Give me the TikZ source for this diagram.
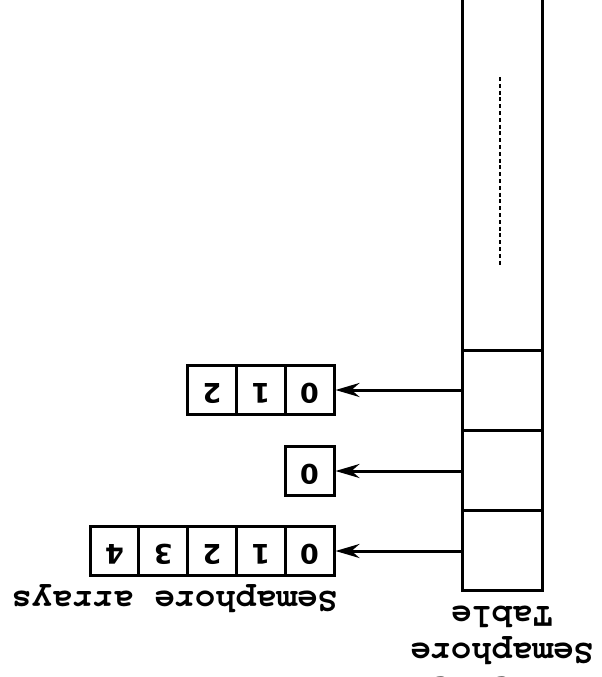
\documentclass[tikz,border=0pt]{standalone}
\usepackage{fontspec}
\newfontfamily\labelfont{texgyrecursor}[Extension=.otf,UprightFont=*-regular,BoldFont=*-bold]
\newfontfamily\digitfont{DejaVu Sans}
\usetikzlibrary{arrows.meta}
\begin{document}
\begin{tikzpicture}[x=1pt,y=-1pt,
  tcell/.style={draw,line width=3pt,minimum width=80pt,minimum height=80pt,inner sep=0pt},
  acell/.style={draw,line width=3pt,minimum width=48.8pt,minimum height=49pt,inner sep=0pt,
    text height=19.7pt,text depth=7pt,
    rotate=180,font=\digitfont\bfseries\fontsize{27}{30}\selectfont},
  lbl/.style={rotate=180,inner sep=0pt,font=\labelfont\bfseries\fontsize{34}{37}\selectfont},
  ptr/.style={line width=3pt,-{Stealth[length=24pt,width=14pt,inset=8pt]}}]
\useasboundingbox (0,0) rectangle (602,677);

% semaphore table: open-ended upper part and three entries
\node[tcell,minimum height=380pt] (ctop) at (502,160) {};
\node[tcell] (c1) at (502,390) {};
\node[tcell] (c2) at (502,470) {};
\node[tcell] (c3) at (502,550) {};
\draw[line width=2.2pt,dash pattern=on 4pt off 2.8pt] (500,77) -- (500,265);

% semaphore arrays
\node[acell] (a0) at (309.6,390) {0};
\node[acell] (a1) at (260.8,390) {1};
\node[acell] (a2) at (212.0,390) {2};

\node[acell] (b0) at (309.6,471) {0};

\node[acell] (d0) at (309.6,551) {0};
\node[acell] (d1) at (260.8,551) {1};
\node[acell] (d2) at (212.0,551) {2};
\node[acell] (d3) at (163.2,551) {3};
\node[acell] (d4) at (114.4,551) {4};

% pointers from table entries to arrays
\draw[ptr] (c1.west |- a0.center) -- (a0.west);
\draw[ptr] (c2.west |- b0.center) -- (b0.west);
\draw[ptr] (c3.west |- d0.center) -- (d0.west);

% labels
\node[lbl,anchor=base west] (arrlbl) at (338,591) {Semaphore arrays};
\node[lbl,anchor=base] (tl1) at (502,606) {Table};
\node[lbl,anchor=base] (tl2) at (502,643) {Semaphore};
\node[lbl,anchor=base] (tl3) at (502,677) {In-kernel};
\end{tikzpicture}
\end{document}
